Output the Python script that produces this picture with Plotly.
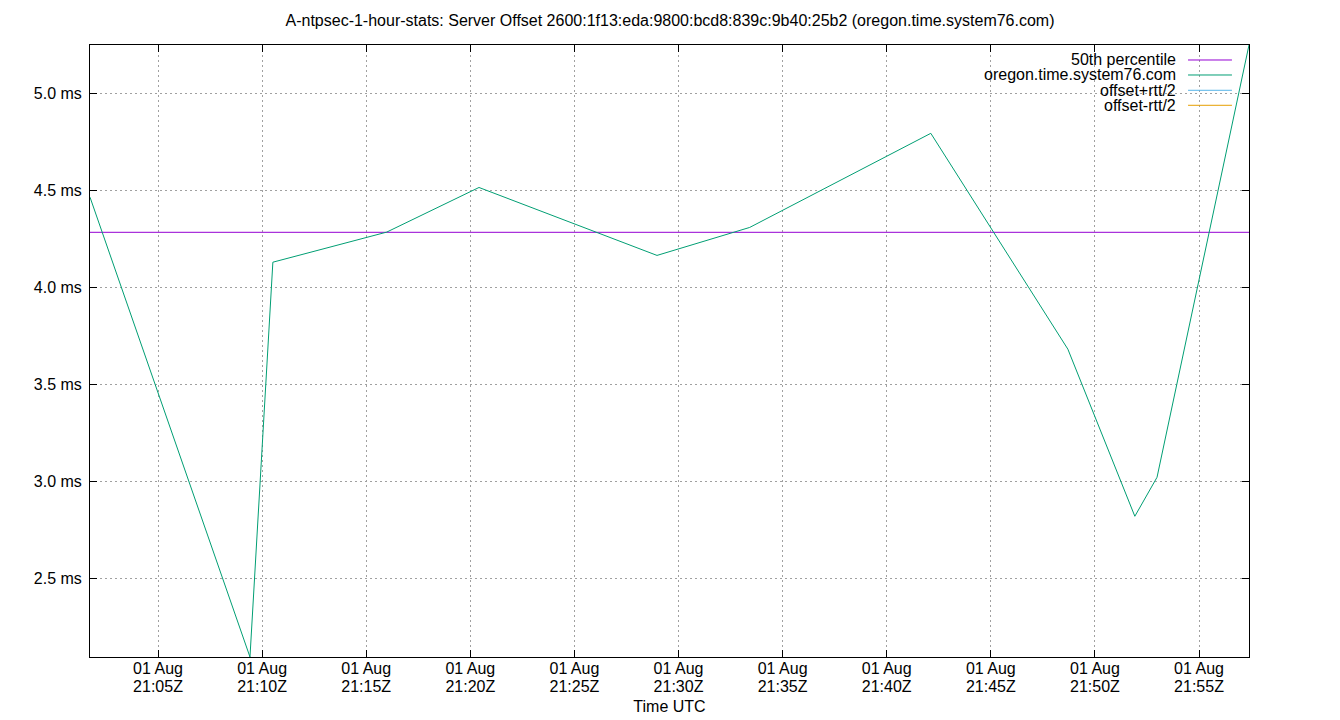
import plotly.graph_objects as go

# NTP server offset samples over the hour
times = ["2023-08-01 21:01:44", "2023-08-01 21:09:25", "2023-08-01 21:10:31",
         "2023-08-01 21:15:59", "2023-08-01 21:20:25", "2023-08-01 21:28:58",
         "2023-08-01 21:33:25", "2023-08-01 21:42:07", "2023-08-01 21:48:42",
         "2023-08-01 21:51:55", "2023-08-01 21:52:59", "2023-08-01 21:57:24"]
offset = [4.465, 2.096, 4.130, 4.285, 4.515, 4.165, 4.309, 4.794, 3.682, 2.821, 3.022, 5.249]
p50 = 4.284
# offset +/- rtt/2 have no visible points in the picture
upper = []
lower = []
upper_t = []

server = "oregon.time.system76.com"
title = "A-ntpsec-1-hour-stats: Server Offset 2600:1f13:eda:9800:bcd8:839c:9b40:25b2 (oregon.time.system76.com)"

FONT = "Liberation Sans, Arial, sans-serif"
cols = ["#9400d3", "#009e73", "#56b4e9", "#e69f00"]
names = ["50th percentile", server, "offset+rtt/2", "offset-rtt/2"]

fig = go.Figure()
fig.add_trace(go.Scatter(x=[times[0], times[-1]], y=[p50, p50], mode="lines",
                         name=names[0], line=dict(color=cols[0], width=1)))
fig.add_trace(go.Scatter(x=times, y=offset, mode="lines",
                         name=names[1], line=dict(color=cols[1], width=1)))
fig.add_trace(go.Scatter(x=upper_t, y=upper, mode="lines", xaxis="x2",
                         name=names[2], line=dict(color=cols[2], width=1)))
fig.add_trace(go.Scatter(x=upper_t, y=lower, mode="lines", xaxis="x2",
                         name=names[3], line=dict(color=cols[3], width=1)))

# gnuplot style key: white box, text right-aligned, sample on the right
shapes = [dict(type="rect", xref="paper", yref="paper", x0=0.7532, x1=0.994,
               y0=0.888, y1=1.0, fillcolor="white", line=dict(width=0), layer="between")]
annos = []
rows = [0.9755, 0.951, 0.926, 0.9015]
for n, c, ry in zip(names, cols, rows):
    annos.append(dict(text=n, xref="paper", yref="paper", x=0.9388, y=ry,
                      xanchor="right", yanchor="middle", showarrow=False,
                      font=dict(family=FONT, size=16, color="black")))
    shapes.append(dict(type="line", xref="paper", yref="paper", x0=0.9474, x1=0.9853,
                       y0=ry, y1=ry, line=dict(color=c, width=1)))

tfont = dict(family=FONT, size=16, color="black")
grid = dict(showgrid=True, gridcolor="#a0a0a0", griddash="2px,3px", gridwidth=1,
            showline=True, linecolor="black", linewidth=1, mirror="ticks",
            ticks="inside", ticklen=7, tickcolor="black", zeroline=False,
            automargin=False, tickfont=tfont)
xr = [times[0], times[-1]]

fig.update_layout(
    width=1340, height=720,
    margin=dict(l=90, r=91, t=45, b=63),
    paper_bgcolor="white", plot_bgcolor="white",
    showlegend=False,
    title=dict(text=title, x=0.5, xanchor="center", y=1 - 20 / 720, yanchor="middle",
               yref="container", font=tfont),
    font=tfont,
    shapes=shapes, annotations=annos,
    xaxis=dict(grid, type="date", range=xr, tick0="2023-08-01 21:05:00", dtick=300000,
               tickformat="%d %b", ticklabelstandoff=-3,
               title=dict(text="Time UTC", font=tfont, standoff=24)),
    # second line of the time labels (gnuplot packs the two lines tighter than <br>)
    xaxis2=dict(overlaying="x", side="bottom", type="date", range=xr,
                tick0="2023-08-01 21:05:00", dtick=300000, tickformat="%H:%MZ",
                showgrid=False, showline=False, ticks="", zeroline=False,
                automargin=False, ticklabelstandoff=18, tickfont=tfont),
    yaxis=dict(grid, range=[min(offset), max(offset)], dtick=0.5, tick0=0,
               tickformat=".1f", ticksuffix=" ms", ticklabelstandoff=4),
)

fig.write_html("out.html", post_script="document.body.style.margin='0px';",
               config={"displayModeBar": False})
